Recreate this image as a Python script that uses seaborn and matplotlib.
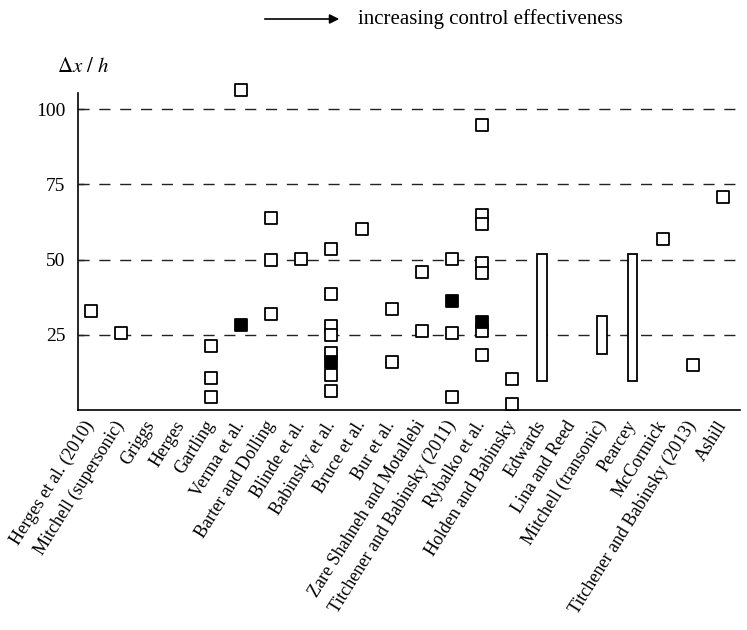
import matplotlib
matplotlib.use("Agg")
import matplotlib.pyplot as plt
import seaborn as sns
import pandas as pd

# Studies ordered by increasing control effectiveness
studies = [
    "Herges et al. (2010)", "Mitchell (supersonic)", "Griggs", "Herges",
    "Gartling", "Verma et al.", "Barter and Dolling", "Blinde et al.",
    "Babinsky et al.", "Bruce et al.", "Bur et al.",
    "Zare Shahneh and Motallebi", "Titchener and Babinsky (2011)",
    "Rybalko et al.", "Holden and Babinsky", "Edwards", "Lina and Reed",
    "Mitchell (transonic)", "Pearcey", "McCormick",
    "Titchener and Babinsky (2013)", "Ashill",
]

# Open symbols: individual spacing values
open_study = [
    "Herges et al. (2010)", "Mitchell (supersonic)",
    "Gartling", "Gartling", "Gartling",
    "Verma et al.",
    "Barter and Dolling", "Barter and Dolling", "Barter and Dolling",
    "Blinde et al.",
    "Babinsky et al.", "Babinsky et al.", "Babinsky et al.", "Babinsky et al.",
    "Babinsky et al.", "Babinsky et al.", "Babinsky et al.",
    "Bruce et al.",
    "Bur et al.", "Bur et al.",
    "Zare Shahneh and Motallebi", "Zare Shahneh and Motallebi",
    "Titchener and Babinsky (2011)", "Titchener and Babinsky (2011)",
    "Titchener and Babinsky (2011)",
    "Rybalko et al.", "Rybalko et al.", "Rybalko et al.", "Rybalko et al.",
    "Rybalko et al.", "Rybalko et al.", "Rybalko et al.",
    "Holden and Babinsky", "Holden and Babinsky",
    "McCormick", "Titchener and Babinsky (2013)", "Ashill",
]
open_value = [
    33.0, 25.4,
    21.1, 10.6, 4.3,
    106.6,
    63.9, 49.7, 31.9,
    50.1,
    53.5, 38.4, 28.0, 24.8, 18.8, 11.5, 6.2,
    60.1,
    33.4, 15.7,
    45.8, 26.3,
    50.3, 25.4, 4.1,
    94.8, 64.8, 61.7, 48.8, 45.5, 26.3, 18.2,
    10.3, 1.7,
    56.8, 14.8, 70.8,
]

# Filled symbols
filled_study = ["Verma et al.", "Babinsky et al.",
                "Titchener and Babinsky (2011)", "Rybalko et al."]
filled_value = [28.3, 15.9, 36.1, 29.3]

# Reported ranges drawn as open bars
range_study = ["Edwards", "Mitchell (transonic)", "Pearcey"]
range_low = [9.4, 18.6, 9.4]
range_high = [51.9, 31.1, 51.9]

sns.set_theme(style="white")
plt.rcParams["font.family"] = ["Liberation Serif", "DejaVu Serif"]
plt.rcParams["mathtext.fontset"] = "stix"

fig = plt.figure(figsize=(7.47, 6.30), dpi=100)
W, H = 747, 630
ax = fig.add_axes([78 / W, 1 - 409.5 / H, (740 - 78) / W, (409.5 - 93) / H])

open_df = pd.DataFrame({"study": open_study, "dx": open_value})
filled_df = pd.DataFrame({"study": filled_study, "dx": filled_value})

# dashed reference lines
for yv in [25, 50, 75, 100]:
    ax.axhline(yv, color="#222222", lw=1.0, ls=(0, (8, 7)), zorder=1)

sns.stripplot(data=open_df, x="study", y="dx", order=studies, jitter=False,
              marker="s", size=8.2, color="white", edgecolor="black",
              linewidth=1.3, ax=ax, zorder=3)
sns.stripplot(data=filled_df, x="study", y="dx", order=studies, jitter=False,
              marker="s", size=8.2, color="black", edgecolor="black",
              linewidth=1.3, ax=ax, zorder=4)
for coll in ax.collections:
    coll.set_clip_on(False)

pos = [studies.index(s) for s in range_study]
heights = [h - l for l, h in zip(range_low, range_high)]
ax.bar(pos, heights, bottom=range_low, width=0.33, facecolor="white",
       edgecolor="black", linewidth=1.3, zorder=3)

ax.set_xlim(-0.42, 21.57)
ax.set_ylim(0, 105.5)
ax.set_yticks([25, 50, 75, 100])
ax.set_xlabel("")
ax.set_ylabel("")

for side in ["top", "right"]:
    ax.spines[side].set_visible(False)
for side in ["left", "bottom"]:
    ax.spines[side].set_color("black")
    ax.spines[side].set_linewidth(1.2)

ax.tick_params(axis="y", direction="in", length=4, width=1.0, pad=9,
               labelsize=14, colors="black", left=True)
ax.tick_params(axis="x", length=0, pad=9, labelsize=13, colors="black")
ax.set_xticks(range(len(studies)))
ax.set_xticklabels(studies, rotation=58, ha="right", va="center",
                   rotation_mode="anchor")

fig.text(83 / W, 1 - 68 / H, r"$\Delta x\ /\ h$", ha="center", va="center",
         fontsize=15, color="black")

fig.patches.append(matplotlib.patches.FancyArrowPatch(
    (262 / W, 1 - 19 / H), (342 / W, 1 - 19 / H), transform=fig.transFigure,
    arrowstyle="-|>", mutation_scale=14, lw=1.2, color="black"))
fig.text(358 / W, 1 - 19 / H, "increasing control effectiveness",
         ha="left", va="center", fontsize=15, color="black")

fig.savefig("out.png", dpi=100, facecolor="white")
